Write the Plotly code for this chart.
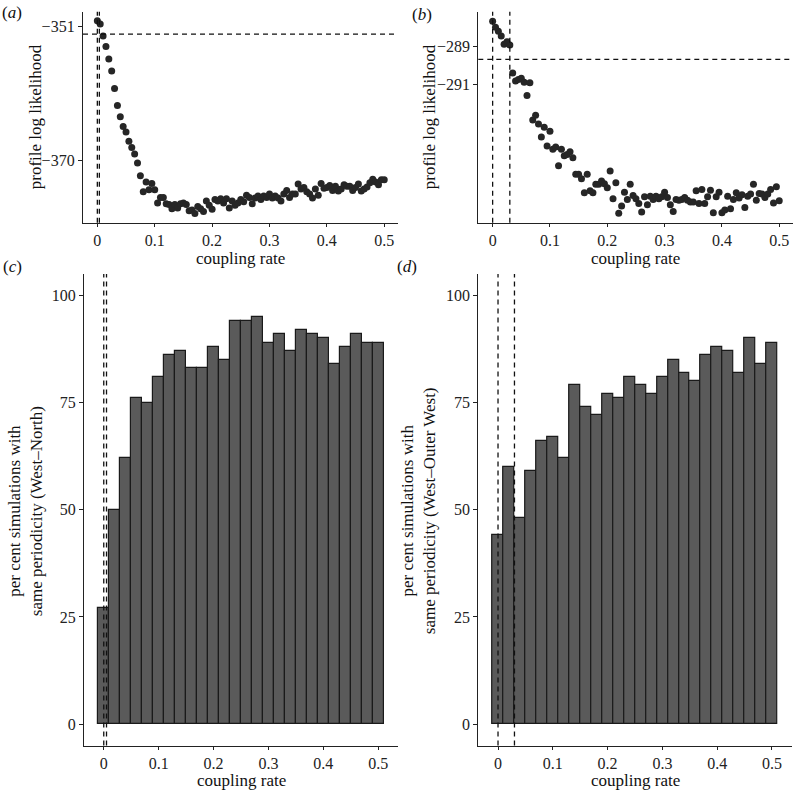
import plotly.graph_objects as go

# ---------------- data ----------------
coupling_a = [round(i * 0.005, 3) for i in range(101)]
loglik_a = [-350.15, -350.6, -352.3, -353.8, -355.6, -357.3, -359.8, -362.2, -363.8, -365.2,
            -366.0, -367.3, -368.2, -369.1, -370.4, -372.2, -374.5, -373.1, -374.2, -373.3,
            -374.2, -376.1, -375.3, -375.3, -376.2, -376.3, -376.9, -376.3, -376.8, -376.2,
            -376.1, -376.3, -377.2, -377.1, -377.6, -376.6, -376.9, -377.3, -375.8, -376.4,
            -377.0, -375.6, -375.8, -375.5, -376.1, -375.5, -376.8, -375.8, -376.4, -376.1,
            -375.6, -375.9, -375.0, -375.3, -376.2, -375.4, -375.1, -375.6, -375.1, -375.3,
            -374.8, -375.4, -375.1, -375.4, -375.8, -374.8, -374.3, -375.3, -374.8, -374.8,
            -373.4, -374.1, -373.9, -374.5, -374.8, -375.4, -374.1, -375.0, -373.3, -374.0,
            -373.9, -373.6, -374.3, -373.7, -374.4, -374.1, -373.5, -373.7, -373.7, -374.3,
            -373.9, -373.4, -374.4, -374.1, -373.8, -373.2, -372.7, -373.1, -373.5, -372.8,
            -372.8]
coupling_b = [round(i * 0.005, 3) for i in range(101)]
loglik_b = [-287.70, -288.01, -288.22, -288.48, -288.91, -288.77, -288.95, -290.41, -290.83, -290.76,
            -290.69, -290.90, -291.59, -290.93, -292.88, -292.63, -293.09, -293.78, -293.26, -294.25,
            -293.47, -294.41, -294.30, -295.28, -294.41, -294.76, -294.69, -294.55, -294.86, -295.73,
            -295.73, -295.97, -296.70, -295.73, -296.60, -296.70, -296.25, -296.25, -296.08, -296.22,
            -296.43, -295.56, -297.02, -296.18, -297.78, -297.40, -296.67, -297.05, -296.25, -296.84,
            -297.02, -297.26, -297.71, -296.91, -297.33, -296.88, -297.05, -296.88, -297.02, -296.91,
            -296.67, -296.95, -297.33, -297.68, -297.05, -297.09, -297.05, -296.95, -297.09, -297.19,
            -297.19, -296.60, -297.26, -296.53, -297.26, -296.91, -296.57, -297.75, -296.91, -296.67,
            -297.75, -297.61, -296.88, -297.54, -297.05, -296.70, -296.98, -296.81, -297.47, -296.88,
            -296.77, -296.25, -297.09, -296.74, -296.77, -296.95, -296.77, -296.53, -297.23, -296.39,
            -297.12]
bins = [round(i * 0.02, 2) for i in range(26)]
pct_c = [27, 50, 62, 76, 75, 81, 86, 87, 83, 83, 88, 85, 94, 94, 95, 89, 91, 87, 92, 91, 90, 84, 88, 91, 89, 89]
pct_d = [44, 60, 48, 59, 66, 67, 62, 79, 74, 72, 77, 76, 81, 79, 77, 81, 85, 82, 80, 86, 88, 87, 82, 90, 84, 89]

ci_a = [0.0, 0.0035]
thr_a = -352.05
ci_b = [0.0, 0.03]
thr_b = -289.70
ci_c = [0.0, 0.005]
ci_d = [0.0, 0.03]

xticks = [0, 0.1, 0.2, 0.3, 0.4, 0.5]
xticktext = ["0", "0.1", "0.2", "0.3", "0.4", "0.5"]

# ---------------- figure ----------------
FONT = "Liberation Serif, Times New Roman, Times, serif"
FS_TICK = 16
FS = 17
W, H = 795, 791

def fx(px):
    return px / W

def fy(py):
    return 1 - py / H

dom_top = [fy(222.7), fy(11.7)]
dom_bot = [fy(745.5), fy(274)]
dom_left_a = [fx(83), fx(398)]
dom_right_b = [fx(478.3), fx(793)]
dom_left_c = [fx(84), fx(398)]
dom_right_d = [fx(478.3), fx(791.7)]

fig = go.Figure()

pt_marker = dict(color="#262626", size=7)
fig.add_trace(go.Scatter(x=coupling_a, y=loglik_a, mode="markers", marker=pt_marker,
                         xaxis="x", yaxis="y", showlegend=False))
fig.add_trace(go.Scatter(x=coupling_b, y=loglik_b, mode="markers", marker=pt_marker,
                         xaxis="x2", yaxis="y2", showlegend=False))
bar_style = dict(color="#5a5a5a", line=dict(color="#1a1a1a", width=1.2))
fig.add_trace(go.Bar(x=bins, y=pct_c, width=0.02, marker=bar_style,
                     xaxis="x3", yaxis="y3", showlegend=False))
fig.add_trace(go.Bar(x=bins, y=pct_d, width=0.02, marker=bar_style,
                     xaxis="x4", yaxis="y4", showlegend=False))

axis_common = dict(showline=True, linecolor="#222222", linewidth=1.3, ticks="outside",
                   ticklen=4, tickwidth=1.1, tickcolor="#222222", showgrid=False,
                   zeroline=False, tickfont=dict(family=FONT, size=FS_TICK, color="#222222"))
xaxis_common = dict(axis_common, ticklen=3)

xa_rng = [-0.025, 0.524]
xc_rng = [-0.036, 0.536]

layout_axes = dict(
    xaxis=dict(domain=dom_left_a, anchor="y", range=xa_rng, tickvals=xticks, ticktext=xticktext, **xaxis_common),
    yaxis=dict(domain=dom_top, anchor="x", range=[-378.9, -348.85], tickvals=[-351, -370], **axis_common),
    xaxis2=dict(domain=dom_right_b, anchor="y2", range=xa_rng, tickvals=xticks, ticktext=xticktext, **xaxis_common),
    yaxis2=dict(domain=dom_top, anchor="x2", range=[-298.27, -287.2], tickvals=[-289, -291], **axis_common),
    xaxis3=dict(domain=dom_left_c, anchor="y3", range=xc_rng, tickvals=xticks, ticktext=xticktext, **xaxis_common),
    yaxis3=dict(domain=dom_bot, anchor="x3", range=[-5, 105], tickvals=[0, 25, 50, 75, 100], **axis_common),
    xaxis4=dict(domain=dom_right_d, anchor="y4", range=xc_rng, tickvals=xticks, ticktext=xticktext, **xaxis_common),
    yaxis4=dict(domain=dom_bot, anchor="x4", range=[-5, 105], tickvals=[0, 25, 50, 75, 100], **axis_common),
)

dash = "5px,4px"
shapes = []
def vline(x, xr, yr):
    shapes.append(dict(type="line", xref=xr, yref=yr + " domain", x0=x, x1=x, y0=0, y1=1,
                       line=dict(color="#111111", width=1.3, dash=dash), layer="above"))
def hline(y, xr, yr):
    shapes.append(dict(type="line", xref=xr + " domain", yref=yr, x0=0, x1=1, y0=y, y1=y,
                       line=dict(color="#111111", width=1.3, dash=dash), layer="above"))

for v in ci_a:
    vline(v, "x", "y")
hline(thr_a, "x", "y")
for v in ci_b:
    vline(v, "x2", "y2")
hline(thr_b, "x2", "y2")
for v in ci_c:
    vline(v, "x3", "y3")
for v in ci_d:
    vline(v, "x4", "y4")

tf = dict(family=FONT, size=FS, color="#111111")
ann = []
def add_text(text, px, py, angle=0, xanchor="center", yanchor="middle"):
    ann.append(dict(text=text, x=fx(px), y=fy(py), xref="paper", yref="paper", showarrow=False,
                    textangle=angle, xanchor=xanchor, yanchor=yanchor, font=tf, borderpad=0))

# panel labels
add_text("(<i>a</i>)", 1, 12, xanchor="left")
add_text("(<i>b</i>)", 411, 14, xanchor="left")
add_text("(<i>c</i>)", 2, 266, xanchor="left")
add_text("(<i>d</i>)", 396, 266, xanchor="left")
# x axis titles
add_text("coupling rate", (83 + 398) / 2, 258)
add_text("coupling rate", (478.3 + 793) / 2, 258)
add_text("coupling rate", (84 + 398) / 2, 791, yanchor="bottom")
add_text("coupling rate", (478.3 + 791.7) / 2, 791, yanchor="bottom")
# y axis titles
add_text("profile log likelihood", 35, (11.7 + 222.7) / 2, angle=-90)
add_text("profile log likelihood", 429, (11.7 + 222.7) / 2, angle=-90)
add_text("per cent simulations with<br>same periodicity (West–North)", 25, (274 + 748.3) / 2, angle=-90)
add_text("per cent simulations with<br>same periodicity (West–Outer West)", 418, (274 + 748.3) / 2, angle=-90)

fig.update_layout(width=W, height=H, margin=dict(l=0, r=0, t=0, b=0),
                  paper_bgcolor="white", plot_bgcolor="white", bargap=0,
                  shapes=shapes, annotations=ann, font=dict(family=FONT, size=FS),
                  **layout_axes)

fig.write_html("out.html", config={"displayModeBar": False},
               post_script="document.body.style.margin='0';document.body.style.padding='0';")
